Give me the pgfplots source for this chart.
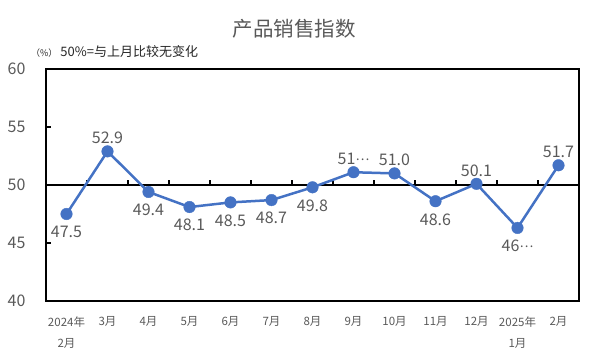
\documentclass[border=0pt]{standalone}
\usepackage{pgfplots}
\pgfplotsset{compat=1.18}
\usepackage{pgfplotstable}
\usepackage{fontspec}
\setmainfont{Noto Sans CJK SC}
\definecolor{lineblue}{HTML}{4472C4}
\definecolor{txtgray}{HTML}{595959}
\newcommand\mdots{\raisebox{4.5bp}{\fontsize{13bp}{13bp}\selectfont …}}
\pgfplotstableread{
x y
0 47.5
1 52.9
2 49.4
3 48.1
4 48.5
5 48.7
6 49.8
7 51.1
8 51.0
9 48.6
10 50.1
11 46.3
12 51.7
}\datatable
\pgfplotstableread{
x y lab
1 52.9 52.9
7 51.1 51\mdots
8 51.0 51.0
10 50.1 50.1
12 51.7 51.7
}\abovetable
\pgfplotstableread{
x y lab
0 47.5 47.5
2 49.4 49.4
3 48.1 48.1
4 48.5 48.5
5 48.7 48.7
6 49.8 49.8
9 48.6 48.6
11 46.3 46\mdots
}\belowtable
\begin{document}
\begin{tikzpicture}
\begin{axis}[
  at={(46bp,53bp)}, anchor=south west,
  scale only axis, width=533bp, height=232bp,
  xmin=-0.5, xmax=12.5, ymin=40, ymax=60,
  ytick={40,45,...,60},
  xtick={0,...,12},
  xticklabels={{2024年\\2月},3月,4月,5月,6月,7月,8月,9月,10月,11月,12月,{2025年\\1月},2月},
  xtick style={draw=none},
  ytick pos=left, tick align=inside,
  major tick length=5bp,
  ytick style={black, line width=1.2bp},
  axis line style={black, line width=1.5bp},
  /pgf/number format/assume math mode=true,
  yticklabel style={font=\fontsize{16bp}{18bp}\selectfont, text=txtgray, xshift=-17bp},
  xticklabel style={font=\fontsize{11.5bp}{21bp}\selectfont, text=txtgray, align=center, anchor=north, yshift=-12bp},
  clip=false,
]
\draw[black, line width=1.5bp] (axis cs:-0.5,50) -- (axis cs:12.5,50);
\pgfplotsinvokeforeach{0.5,1.5,...,11.5}{
  \draw[black, line width=1.2bp] (axis cs:#1,50) -- (axis cs:#1,50.43);
}
\addplot[color=lineblue, line width=2.5bp, mark=*, mark size=5.8bp,
  mark options={solid, fill=lineblue, draw=lineblue, line width=0.4bp}
] table[x=x, y=y] {\datatable};
\addplot[draw=none, mark=none, point meta=explicit symbolic, nodes near coords,
  every node near coord/.append style={anchor=south, inner sep=0pt, yshift=7bp, font=\fontsize{16bp}{18bp}\selectfont, text=txtgray}
] table[x=x, y=y, meta=lab] {\abovetable};
\addplot[draw=none, mark=none, point meta=explicit symbolic, nodes near coords,
  every node near coord/.append style={anchor=north, inner sep=0pt, yshift=-12bp, font=\fontsize{16bp}{18bp}\selectfont, text=txtgray}
] table[x=x, y=y, meta=lab] {\belowtable};
\end{axis}
\node[font=\fontsize{20.5bp}{22bp}\selectfont, text=txtgray] at (294bp,325bp) {产品销售指数};
\node[font=\fontsize{13bp}{15bp}\selectfont, anchor=west, text=black!85, inner sep=0pt] at (31bp,302bp) {{\fontsize{9bp}{10bp}\selectfont（\%）}\hspace{3bp}50\%=与上月比较无变化};
\pgfresetboundingbox
\path (0,0) rectangle (591bp,354bp);
\end{tikzpicture}
\end{document}
